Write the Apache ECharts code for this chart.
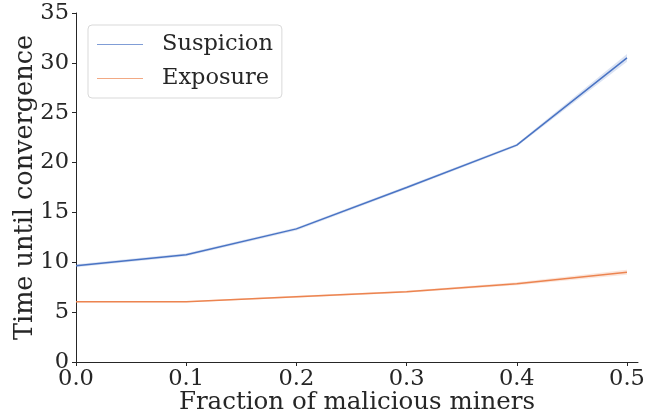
<!DOCTYPE html>
<html>
<head>
<meta charset="utf-8">
<script src="https://cdn.jsdelivr.net/npm/echarts@6/dist/echarts.min.js"></script>
<style>html,body{margin:0;padding:0;background:#fff}#c{width:657px;height:414px}</style>
</head>
<body>
<div id="c"></div>
<script>
const fractions = [0.0, 0.1, 0.2, 0.3, 0.4, 0.5];
const suspicion = [9.65, 10.75, 13.35, 17.5, 21.75, 30.5];
const suspicionLow = [9.5, 10.6, 13.2, 17.35, 21.6, 30.1];
const suspicionHigh = [9.8, 10.9, 13.5, 17.65, 21.9, 30.9];
const exposure = [6.05, 6.05, 6.55, 7.05, 7.85, 9.0];
const exposureLow = [6.0, 6.0, 6.45, 6.95, 7.7, 8.75];
const exposureHigh = [6.1, 6.1, 6.65, 7.15, 8.0, 9.25];
const xTicks = [0.0, 0.1, 0.2, 0.3, 0.4, 0.5];
const seriesNames = ['Suspicion', 'Exposure'];

const FONT = 'DejaVu Serif';
const FS = 22.5;
const TXT = '#262626';
const BLUE = '#4a74c4';
const ORANGE = '#ec8450';

const pairs = ys => fractions.map((x, i) => [x, ys[i]]);

function band(name, lo, hi, color) {
  return {
    name: name, type: 'custom', silent: true, z: 1,
    data: [0],
    renderItem: function (params, api) {
      const pts = [];
      for (let i = 0; i < fractions.length; i++) pts.push(api.coord([fractions[i], hi[i]]));
      for (let i = fractions.length - 1; i >= 0; i--) pts.push(api.coord([fractions[i], lo[i]]));
      return {type: 'polygon', shape: {points: pts}, style: {fill: color, opacity: 0.2}};
    }
  };
}

const chart = echarts.init(document.getElementById('c'), null, {renderer: 'canvas'});
chart.setOption({
  animation: false,
  backgroundColor: '#fff',
  grid: {left: 76, right: 19, top: 13, bottom: 52, containLabel: false, outerBoundsMode: 'none'},
  legend: {
    data: seriesNames,
    orient: 'vertical',
    left: 88, top: 25,
    padding: [8, 9, 8, 9],
    itemWidth: 46, itemHeight: 14, itemGap: 11,
    backgroundColor: '#fff',
    borderColor: '#d9d9d9', borderWidth: 1, borderRadius: 4,
    textStyle: {fontFamily: FONT, fontSize: FS, color: TXT, padding: [0, 0, 0, 14]},
    icon: 'path://M0,0 L46,0 L46,1 L0,1 Z',
    itemStyle: {opacity: 0.7}
  },
  xAxis: {
    type: 'value', min: 0, max: 0.51,
    name: 'Fraction of malicious miners', nameLocation: 'middle', nameGap: 28,
    nameMoveOverlap: false,
    nameTextStyle: {fontFamily: FONT, fontSize: 24.5, color: TXT},
    axisLine: {show: true, lineStyle: {color: TXT, width: 1}},
    axisTick: {show: true, length: 4, inside: false, customValues: xTicks, lineStyle: {color: TXT}},
    axisLabel: {customValues: xTicks, fontFamily: FONT, fontSize: FS, color: TXT, margin: 6,
      formatter: v => v.toFixed(1)},
    splitLine: {show: false}
  },
  yAxis: {
    type: 'value', min: 0, max: 35, interval: 5,
    name: 'Time until convergence', nameLocation: 'middle', nameGap: 38,
    nameMoveOverlap: false,
    nameTextStyle: {fontFamily: FONT, fontSize: 25.5, color: TXT},
    axisLine: {show: true, lineStyle: {color: TXT, width: 1}},
    axisTick: {show: true, length: 4, lineStyle: {color: TXT}},
    axisLabel: {fontFamily: FONT, fontSize: FS, color: TXT, margin: 7},
    splitLine: {show: false}
  },
  series: [
    band('sband', suspicionLow, suspicionHigh, BLUE),
    band('eband', exposureLow, exposureHigh, ORANGE),
    {name: seriesNames[0], type: 'line', data: pairs(suspicion), symbol: 'none',
     color: BLUE, lineStyle: {color: BLUE, width: 1.5}, z: 3},
    {name: seriesNames[1], type: 'line', data: pairs(exposure), symbol: 'none',
     color: ORANGE, lineStyle: {color: ORANGE, width: 1.5}, z: 3}
  ]
});
</script>
</body>
</html>
